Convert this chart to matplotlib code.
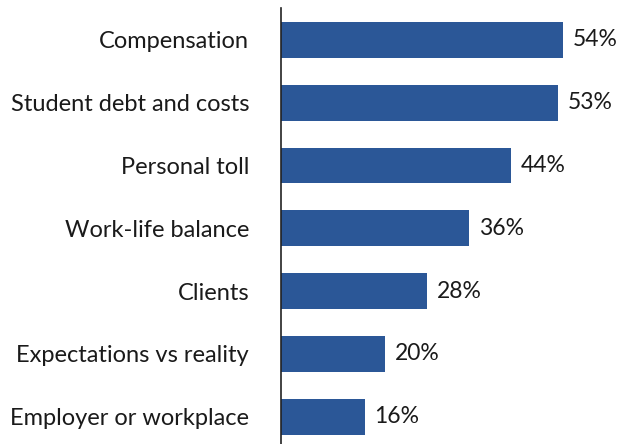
import matplotlib
matplotlib.use("Agg")
import matplotlib.pyplot as plt

# ----------------------------
# Data
# ----------------------------
categories = [
    "Compensation",
    "Student debt and costs",
    "Personal toll",
    "Work-life balance",
    "Clients",
    "Expectations vs reality",
    "Employer or workplace",
]
values = [54, 53, 44, 36, 28, 20, 16]

BAR_COLOR = "#2B5797"
TEXT_COLOR = "#1a1a1a"

plt.rcParams["font.family"] = ["Lato", "DejaVu Sans"]

fig = plt.figure(figsize=(6.21, 4.44), dpi=100)
W, H = 621, 444
left, right = 281, 615
top, bottom = 8.5, 448
ax = fig.add_axes([left / W, 1 - bottom / H, (right - left) / W, (bottom - top) / H])

ypos = list(range(len(categories)))
ax.barh(ypos, values, height=0.57, color=BAR_COLOR)

ax.set_xlim(0, (right - left) / 5.22)
ax.set_ylim(len(categories) - 0.5, -0.5)

for y, v in zip(ypos, values):
    ax.annotate(f"{v}%", (v, y), xytext=(7, 0), textcoords="offset points",
                va="center", ha="left", fontsize=16.5, color=TEXT_COLOR)

ax.set_yticks(ypos)
ax.set_yticklabels(categories, fontsize=17, color=TEXT_COLOR)
ax.tick_params(axis="y", length=0, pad=23)
ax.set_xticks([])

for side in ["top", "right", "bottom"]:
    ax.spines[side].set_visible(False)
ax.spines["left"].set_color("#222222")
ax.spines["left"].set_linewidth(1.2)

fig.savefig("out.png", dpi=100)
